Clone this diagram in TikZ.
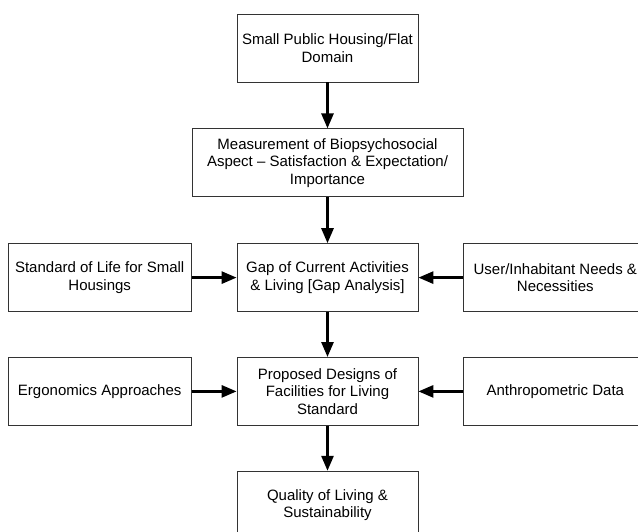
\documentclass[tikz,border=0pt]{standalone}
\usepackage{fontspec}
\setmainfont{Liberation Sans}
\usetikzlibrary{positioning,arrows.meta}

\begin{document}
\begin{tikzpicture}[box/.style={rectangle, draw=black!80, line width=0.8pt,
        minimum width=181pt, minimum height=68pt, inner sep=2pt, align=center},
    wide/.style={box, minimum width=271pt},
    side/.style={box, minimum width=183pt},
    link/.style={->, line width=2.7pt},
    >={Triangle[length=15pt,width=12pt]},
    font=\fontsize{15}{17.5}\selectfont]

    \useasboundingbox (0,0) rectangle (638pt,-531pt);
    \clip (0,0) rectangle (638pt,-531pt);

    \node[box] (domain) at (327.5pt,-48pt) {Small Public Housing/Flat\\Domain};
    \node[wide] (measure) [below=46pt of domain] {Measurement of Biopsychosocial\\Aspect -- Satisfaction \& Expectation/\\Importance};
    \node[box] (gap) [below=46pt of measure] {Gap of Current Activities\\\& Living [Gap Analysis]};
    \node[side] (standard) [left=45pt of gap] {Standard of Life for Small\\Housings};
    \node[side] (needs) [right=45pt of gap] {User/Inhabitant Needs \&\\Necessities};
    \node[box] (design) [below=45pt of gap] {Proposed Designs of\\Facilities for Living\\Standard};
    \node[side] (ergo) [left=45pt of design] {Ergonomics Approaches};
    \node[side] (anthro) [right=45pt of design] {Anthropometric Data};
    \node[box] (quality) [below=45pt of design] {Quality of Living \&\\Sustainability};

    \draw[link] (domain) -- (measure);
    \draw[link] (measure) -- (gap);
    \draw[link] (standard) -- (gap);
    \draw[link] (needs) -- (gap);
    \draw[link] (gap) -- (design);
    \draw[link] (ergo) -- (design);
    \draw[link] (anthro) -- (design);
    \draw[link] (design) -- (quality);
  \end{tikzpicture}
\end{document}
